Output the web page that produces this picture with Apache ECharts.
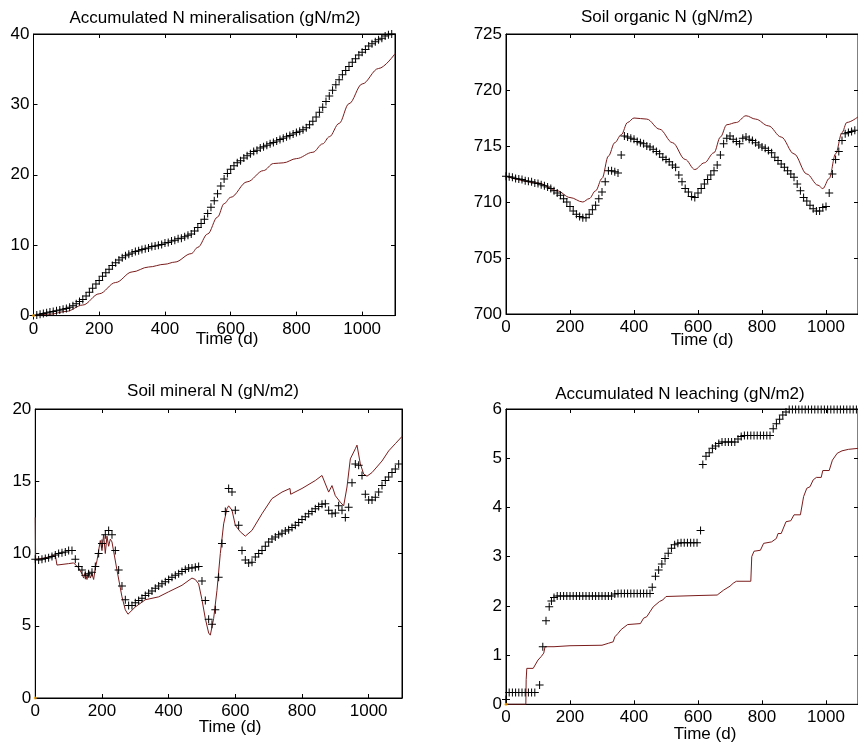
<!DOCTYPE html>
<html>
<head>
<meta charset="utf-8">
<title>N balance</title>
<script src="https://cdn.jsdelivr.net/npm/echarts@6/dist/echarts.min.js"></script>
<style>
  html, body { margin: 0; padding: 0; background: #fff; }
  #chart { width: 858px; height: 746px; }
</style>
</head>
<body>
<div id="chart"></div>
<script>
// observation days (every 10 d)
const days10 = [0,10,20,30,40,50,60,70,80,90,100,110,120,130,140,150,160,170,180,190,
  200,210,220,230,240,250,260,270,280,290,300,310,320,330,340,350,360,370,380,390,
  400,410,420,430,440,450,460,470,480,490,500,510,520,530,540,550,560,570,580,590,
  600,610,620,630,640,650,660,670,680,690,700,710,720,730,740,750,760,770,780,790,
  800,810,820,830,840,850,860,870,880,890,900,910,920,930,940,950,960,970,980,990,
  1000,1010,1020,1030,1040,1050,1060,1070,1080,1090]

// Accumulated N mineralisation
const minObs = [0,0.1,0.2,0.3,0.4,0.5,0.6,0.7,0.8,0.9,
  1.0,1.2,1.4,1.7,2.0,2.3,2.8,3.3,3.9,4.5,
  5.0,5.6,6.1,6.6,7.1,7.5,7.9,8.2,8.5,8.7,
  8.9,9.1,9.2,9.4,9.5,9.6,9.8,9.9,10.0,10.1,
  10.3,10.4,10.6,10.7,10.9,11.0,11.2,11.4,11.6,12.0,
  12.5,13.1,13.7,14.5,15.4,16.3,17.3,18.4,19.4,20.2,
  20.8,21.3,21.7,22.0,22.4,22.7,23.0,23.3,23.5,23.8,
  24.0,24.2,24.4,24.6,24.8,25.0,25.2,25.4,25.6,25.8,
  26.0,26.2,26.4,26.7,27.1,27.6,28.2,28.9,29.6,30.4,
  31.2,32.0,32.8,33.5,34.2,34.8,35.4,36.0,36.5,37.0,
  37.4,37.8,38.3,38.6,38.9,39.2,39.4,39.7,39.9,40.0]
const minSimDays = [0,50,100,150,200,250,300,350,400,430,480,500,530,560,580,600,650,700,730,760,800,850,880,900,930,960,1000,1050,1100]
const minSim = [0,0.2,0.6,1.5,3.1,4.7,6.2,6.9,7.3,7.6,8.8,9.7,11.6,14,15.9,16.8,19,20.6,21.6,21.7,22.3,23.2,24.4,25.4,27.3,30.1,32.9,35.1,37.2]

// Soil organic N
const orgObs = [712.3,712.25,712.2,712.1,712.05,712.0,711.9,711.85,711.8,711.7,
  711.65,711.55,711.45,711.35,711.2,711.0,710.8,710.6,710.3,710.0,
  709.6,709.2,708.9,708.7,708.6,708.6,708.9,709.3,709.7,710.3,
  710.9,711.8,712.8,712.8,712.7,712.6,714.2,715.9,715.8,715.7,
  715.6,715.4,715.3,715.2,715.0,714.9,714.7,714.5,714.3,714.0,
  713.8,713.6,713.3,713.1,712.4,711.8,711.2,710.9,710.5,710.4,
  710.8,711.2,711.6,712.0,712.4,712.8,713.3,714.2,715.2,715.7,
  715.9,715.6,715.4,715.2,715.7,715.8,715.6,715.5,715.3,715.1,
  714.9,714.8,714.6,714.4,714.0,713.7,713.4,713.1,712.8,712.5,
  712.2,711.6,711.0,710.4,710.1,709.7,709.4,709.2,709.2,709.5,
  709.6,710.8,712.5,713.8,714.5,715.5,716.1,716.2,716.3,716.4]
const orgSimDays = [0,100,160,200,240,260,280,300,320,340,360,380,400,440,480,520,560,590,620,650,670,690,720,750,780,820,860,900,940,975,990,1010,1030,1050,1065,1100]
const orgSim = [712.3,711.7,711.0,710.4,710.0,710.3,711.0,712.1,714.1,715.3,716.0,717.1,717.5,717.4,716.5,715.3,713.8,712.9,713.5,714.4,715.8,716.9,717.1,717.7,717.4,716.8,715.8,714.3,712.5,711.5,711.2,712.1,714.3,716.2,717.1,717.6]

// Soil mineral N
const minNObs = [9.6,9.55,9.6,9.65,9.7,9.8,9.9,10.0,10.05,10.1,
  10.2,10.2,9.6,9.1,8.85,8.5,8.6,8.7,9.1,10.0,
  10.7,11.3,11.6,11.3,10.2,8.85,7.75,6.8,6.4,6.4,
  6.6,6.75,6.9,7.1,7.25,7.4,7.6,7.75,7.9,8.05,
  8.2,8.35,8.5,8.6,8.75,8.9,9.0,9.0,9.05,9.1,
  8.1,6.75,5.45,5.1,6.1,8.35,10.7,12.9,14.5,14.25,
  13.0,11.95,10.2,9.55,9.35,9.4,9.75,10.0,10.2,10.5,
  10.8,11.0,11.15,11.3,11.4,11.55,11.65,11.8,11.95,12.15,
  12.35,12.55,12.75,12.9,13.1,13.25,13.4,13.45,13.0,12.75,
  12.8,13.3,13.0,12.5,13.2,14.9,16.2,16.1,15.4,14.1,
  13.7,13.7,13.9,14.25,14.7,15.05,15.3,15.6,15.85,16.2]
const minNSimDays = [0,1,30,60,65,100,115,130,140,145,150,155,160,165,170,175,180,185,190,195,200,205,210,215,220,225,230,245,260,270,278,300,330,370,400,440,470,480,490,500,510,520,525,535,545,555,565,575,580,590,600,615,630,650,680,710,740,764,766,800,840,860,865,880,890,900,915,925,935,945,960,965,975,985,995,1010,1040,1060,1080,1100]
const minNSim = [12.5,9.6,9.7,9.9,9.2,9.3,9.35,9.0,8.6,8.3,8.7,8.2,8.8,8.3,8.6,8.2,9.0,9.5,10.2,10.9,10.2,11.3,10.0,11.2,10.5,11.0,10.8,8.85,7.0,6.1,5.8,6.3,6.8,7.0,7.35,7.8,8.3,8.2,7.9,6.8,5.5,4.5,4.35,5.5,7.45,10.0,12.05,13.1,13.3,13.0,11.95,11.5,11.2,11.6,12.75,13.8,14.25,14.5,14.1,14.5,15.05,15.4,15.3,14.25,14.7,14.0,13.55,13.3,14.6,16.55,17.25,17.5,16.2,15.5,15.35,15.6,16.4,17.1,17.6,18.1]

// Accumulated N leaching
const leachObsDays = [0,10,20,30,40,50,60,70,80,90,
  105,115,125,135,142,150,
  160,170,180,190,200,210,220,230,240,250,260,270,280,290,300,310,320,330,
  340,350,360,370,380,390,400,410,420,430,440,450,
  457,467,477,487,497,507,517,527,537,
  547,557,567,577,587,597,
  608,615,625,635,645,655,665,675,685,695,705,715,725,735,
  745,755,765,775,785,795,805,815,825,
  835,845,855,865,875,
  885,895,905,915,925,935,945,955,965,975,985,995,1005,1015,1025,1035,1045,1055,1065,1075,1085,1095]
const leachObs = [0.1,0.24,0.24,0.24,0.24,0.24,0.24,0.24,0.24,0.24,
  0.39,1.17,1.7,1.98,2.1,2.17,
  2.2,2.2,2.2,2.2,2.2,2.2,2.2,2.2,2.2,2.2,2.2,2.2,2.2,2.2,2.2,2.2,2.2,2.2,
  2.24,2.25,2.25,2.25,2.25,2.25,2.25,2.25,2.25,2.25,2.25,2.25,
  2.38,2.6,2.73,2.85,2.96,3.07,3.17,3.24,3.27,
  3.28,3.28,3.28,3.28,3.28,3.28,
  3.53,4.87,5.04,5.11,5.2,5.25,5.3,5.33,5.33,5.33,5.33,5.33,5.39,5.44,
  5.46,5.46,5.46,5.46,5.46,5.46,5.46,5.46,5.46,
  5.6,5.7,5.79,5.88,5.94,
  5.99,5.99,5.99,5.99,5.99,5.99,5.99,5.99,5.99,5.99,5.99,5.99,5.99,5.99,5.99,5.99,5.99,5.99,5.99,5.99,5.99,5.99]
const leachSimDays = [0,62,63,65,85,100,110,118,122,150,200,300,320,335,340,350,360,380,420,430,440,450,460,480,490,500,600,660,680,700,710,720,765,768,775,795,805,830,845,850,860,875,890,900,920,930,940,950,960,970,985,990,1010,1020,1035,1050,1070,1100]
const leachSim = [0,0,0.5,0.73,0.73,0.9,0.97,1.04,1.17,1.17,1.19,1.2,1.24,1.27,1.37,1.44,1.52,1.62,1.64,1.75,1.78,1.88,1.98,2.09,2.12,2.19,2.21,2.22,2.32,2.4,2.46,2.5,2.5,3.0,3.11,3.13,3.27,3.3,3.37,3.47,3.47,3.71,3.73,3.85,3.85,4.22,4.39,4.42,4.56,4.61,4.61,4.75,4.75,4.96,5.1,5.15,5.18,5.2]

const originPt = [[0, 0]]

const FONT = "'Liberation Sans', Arial, sans-serif"
const SIM_COLOR = '#7a1c1c'
const PLUS = 'path://M3.5,0H4.5V3.5H8V4.5H4.5V8H3.5V4.5H0V3.5H3.5Z'

const panels = [
  { title: 'Accumulated N mineralisation (gN/m2)', titleX: 215, titleY: 19, labelX: 227, labelY: 340,
    grid: { left: 33.5, top: 34, width: 361.5, height: 281.6 }, yMin: 0, yMax: 40, yInt: 10,
    obsX: days10, obsY: minObs, simX: minSimDays, simY: minSim, smooth: true, origin: true },
  { title: 'Soil organic N (gN/m2)', titleX: 667, titleY: 18, labelX: 702, labelY: 341,
    grid: { left: 506, top: 34, width: 359.4, height: 280 }, yMin: 700, yMax: 725, yInt: 5,
    obsX: days10, obsY: orgObs, simX: orgSimDays, simY: orgSim, smooth: true, origin: false },
  { title: 'Soil mineral N (gN/m2)', titleX: 213, titleY: 392, labelX: 230, labelY: 728,
    grid: { left: 35.3, top: 409, width: 366.7, height: 289 }, yMin: 0, yMax: 20, yInt: 5,
    obsX: days10, obsY: minNObs, simX: minNSimDays, simY: minNSim, smooth: false, origin: true },
  { title: 'Accumulated N leaching (gN/m2)', titleX: 680, titleY: 395, labelX: 705, labelY: 735,
    grid: { left: 506, top: 409, width: 359.4, height: 295.3 }, yMin: 0, yMax: 6, yInt: 1,
    obsX: leachObsDays, obsY: leachObs, simX: leachSimDays, simY: leachSim, smooth: false, origin: true }
]

function zip (xs, ys) {
  return xs.map((x, i) => [x, ys[i]])
}

const grids = []
const xAxes = []
const yAxes = []
const titles = []
const series = []

panels.forEach((p, i) => {
  grids.push(Object.assign({ show: true, borderColor: '#000', borderWidth: 1, backgroundColor: '#fff', containLabel: false }, p.grid))
  const tick = { inside: true, length: 4, lineStyle: { color: '#000', width: 1 } }
  const line = { onZero: false, lineStyle: { color: '#000', width: 1 } }
  const label = { color: '#000', fontSize: 17, fontFamily: FONT, margin: 5 }
  xAxes.push({
    gridIndex: i, type: 'value', min: 0, max: 1100, interval: 200, position: 'bottom',
    axisLine: line, axisTick: tick, splitLine: { show: false },
    axisLabel: Object.assign({ showMaxLabel: false, formatter: v => (v > 1000 ? '' : v) }, label)
  })
  xAxes.push({
    gridIndex: i, type: 'value', min: 0, max: 1100, interval: 200, position: 'top',
    axisLine: line, axisTick: tick, splitLine: { show: false }, axisLabel: { show: false }
  })
  yAxes.push({
    gridIndex: i, type: 'value', min: p.yMin, max: p.yMax, interval: p.yInt, position: 'left',
    axisLine: line, axisTick: tick, splitLine: { show: false },
    axisLabel: Object.assign({}, label, { margin: 4 })
  })
  yAxes.push({
    gridIndex: i, type: 'value', min: p.yMin, max: p.yMax, interval: p.yInt, position: 'right',
    axisLine: line, axisTick: tick, splitLine: { show: false }, axisLabel: { show: false }
  })
  // panel title and x label, centred on the given x
  titles.push({
    text: p.title, left: p.titleX, top: p.titleY - 9, textAlign: 'center', padding: 0,
    textStyle: { fontFamily: FONT, fontSize: 17, fontWeight: 'normal', color: '#000' }
  })
  titles.push({
    text: 'Time (d)', left: p.labelX, top: p.labelY - 9, textAlign: 'center', padding: 0,
    textStyle: { fontFamily: FONT, fontSize: 17, fontWeight: 'normal', color: '#000' }
  })
  series.push({
    type: 'line', xAxisIndex: 2 * i, yAxisIndex: 2 * i, data: zip(p.simX, p.simY),
    showSymbol: false, smooth: p.smooth ? 0.35 : false, smoothMonotone: 'x',
    lineStyle: { color: SIM_COLOR, width: 1 }, z: 3
  })
  series.push({
    type: 'scatter', xAxisIndex: 2 * i, yAxisIndex: 2 * i, data: zip(p.obsX, p.obsY),
    symbol: PLUS, symbolSize: 8, itemStyle: { color: '#000', opacity: 1 }, z: 4
  })
  if (p.origin) {
    series.push({
      type: 'scatter', xAxisIndex: 2 * i, yAxisIndex: 2 * i, data: originPt,
      symbol: 'circle', symbolSize: 3, itemStyle: { color: '#f5a300' }, z: 5, clip: false
    })
  }
})

const chart = echarts.init(document.getElementById('chart'), null, { renderer: 'canvas' })
chart.setOption({
  animation: false,
  backgroundColor: '#fff',
  title: titles,
  grid: grids,
  xAxis: xAxes,
  yAxis: yAxes,
  series: series
})
</script>
</body>
</html>
